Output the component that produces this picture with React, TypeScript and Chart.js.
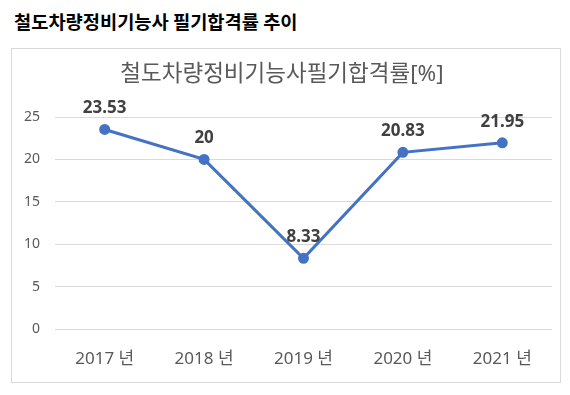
import React, { useEffect, useRef } from "react";
import { Chart, registerables } from "chart.js";

Chart.register(...registerables);

const heading = "철도차량정비기능사 필기합격률 추이";
const chartTitle = "철도차량정비기능사필기합격률[%]";
const categories = ["2017 년", "2018 년", "2019 년", "2020 년", "2021 년"];
const passRates = [23.53, 20, 8.33, 20.83, 21.95];
const rateLabels = ["23.53", "20", "8.33", "20.83", "21.95"];

const FONT = "'Noto Sans', 'Noto Sans CJK KR', sans-serif";

const labelPlugin = {
  id: "pointLabels",
  afterDatasetsDraw(chart: any) {
    const ctx = chart.ctx;
    const meta = chart.getDatasetMeta(0);
    ctx.save();
    ctx.font = `bold 17px ${FONT}`;
    ctx.fillStyle = "#404040";
    ctx.textAlign = "center";
    ctx.textBaseline = "middle";
    meta.data.forEach((pt: any, i: number) => {
      ctx.fillText(rateLabels[i], pt.x, pt.y - 21);
    });
    ctx.restore();
  },
};

export default function App() {
  const ref = useRef<HTMLCanvasElement>(null);
  useEffect(() => {
    document.body.style.margin = "0";
    const chart = new Chart(ref.current!, {
      type: "line",
      data: {
        labels: categories,
        datasets: [
          {
            data: passRates,
            borderColor: "#4472c4",
            backgroundColor: "#4472c4",
            borderWidth: 3,
            pointRadius: 4,
            pointHoverRadius: 4,
            tension: 0,
          },
        ],
      },
      options: {
        animation: false,
        responsive: false,
        maintainAspectRatio: false,
        layout: { padding: { left: 0, right: 8, top: 0, bottom: 0 } },
        plugins: {
          legend: { display: false },
          tooltip: { enabled: false },
          title: {
            display: true,
            text: chartTitle,
            color: "#595959",
            font: { family: FONT, size: 22.5, weight: "normal" },
            padding: { top: 12, bottom: 29 },
          },
        },
        scales: {
          x: {
            offset: true,
            grid: { display: false, drawTicks: false },
            border: { display: false },
            ticks: {
              color: "#595959",
              font: { family: FONT, size: 17 },
              padding: 20,
            },
            afterFit(scale: any) {
              scale.height = 53;
            },
          },
          y: {
            min: 0,
            max: 25,
            grid: { color: "#d9d9d9", lineWidth: 1, drawTicks: false },
            border: { display: false },
            ticks: {
              stepSize: 5,
              color: "#595959",
              font: { family: FONT, size: 14 },
              padding: 15,
            },
            afterFit(scale: any) {
              scale.width = 43;
            },
          },
        },
      },
      plugins: [labelPlugin],
    } as any);
    return () => chart.destroy();
  }, []);

  return (
    <div style={{ position: "relative", width: 570, height: 395, background: "#fff" }}>
      <div
        style={{
          position: "absolute",
          left: 14,
          top: 8,
          fontFamily: "'Noto Sans CJK KR', sans-serif",
          fontWeight: 700,
          fontSize: 18.7,
          lineHeight: "26px",
          color: "#000",
          whiteSpace: "nowrap",
        }}
      >
        {heading}
      </div>
      <div
        style={{
          position: "absolute",
          left: 11,
          top: 48,
          width: 548,
          height: 333,
          border: "1px solid #d9d9d9",
        }}
      >
        <canvas ref={ref} width={548} height={333} style={{ display: "block" }} />
      </div>
    </div>
  );
}
